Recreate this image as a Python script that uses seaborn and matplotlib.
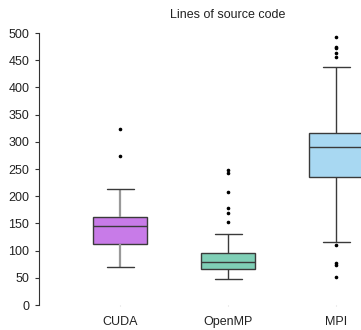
import numpy as np
import pandas as pd
import matplotlib
matplotlib.use("Agg")
import matplotlib.pyplot as plt
import seaborn as sns

categories = ["CUDA", "OpenMP", "MPI"]
# box statistics
whisker_low = [69, 47, 116]
q1 = [112, 66, 236]
median = [145, 78.5, 290]
q3 = [161, 95, 317]
whisker_high = [214, 130, 437]
outliers = [
    [273, 323],
    [153, 170, 179, 208, 243, 249],
    [52, 73, 77, 110, 455, 463, 472, 474, 493],
]
colors = ["#c87be8", "#7fcfb6", "#a8d8f2"]
yticks = [0, 50, 100, 150, 200, 250, 300, 350, 400, 450, 500]

# build a sample whose quartiles / whiskers reproduce the read statistics
rows = []
for i, c in enumerate(categories):
    vals = ([whisker_low[i]] + [q1[i]] * 20 + [median[i]] * 20 + [q3[i]] * 20
            + [whisker_high[i]] + list(outliers[i]))
    for v in vals:
        rows.append((c, v))
df = pd.DataFrame(rows, columns=["lang", "loc"])

sns.set_style("white")
plt.rcParams["font.family"] = ["Liberation Sans", "DejaVu Sans"]

fig = plt.figure(figsize=(3.61, 3.30), dpi=100)
ax = fig.add_axes([39 / 361, 1 - 305 / 330, 378 / 361, 272 / 330])

sns.boxplot(data=df, x="lang", y="loc", hue="lang", palette=colors, order=categories,
            width=0.5, linecolor="#3a3a3a", linewidth=1.0,
            flierprops=dict(marker="o", markersize=1.6, markerfacecolor="black",
                            markeredgecolor="black"),
            whis=1.5, ax=ax, legend=False, saturation=1)

# CUDA whiskers are drawn in grey in the reference
for ln in ax.lines:
    xd = np.asarray(ln.get_xdata(), dtype=float)
    yd = np.asarray(ln.get_ydata(), dtype=float)
    if len(xd) == 2 and np.allclose(xd, 0) and not np.isclose(yd[0], yd[1]):
        ln.set_color("#999999")
        ln.set_linewidth(1.6)

ax.set_xlim(-0.75, 2.75)
ax.set_ylim(0, 500)
ax.set_yticks(yticks)
ax.set_xlabel("")
ax.set_ylabel("")
ax.set_title("Lines of source code", fontsize=9, color="#222222", pad=11)
for s in ["top", "right", "bottom"]:
    ax.spines[s].set_visible(False)
ax.spines["left"].set_color("#333333")
ax.spines["left"].set_linewidth(0.8)
ax.tick_params(axis="y", left=True, length=3, width=0.8, color="#333333", labelsize=9, labelcolor="#222222", pad=4)
ax.tick_params(axis="x", bottom=True, length=1, width=0.8, color="#dddddd", labelsize=9, labelcolor="#222222", pad=7)

fig.savefig("out.png", dpi=100)
